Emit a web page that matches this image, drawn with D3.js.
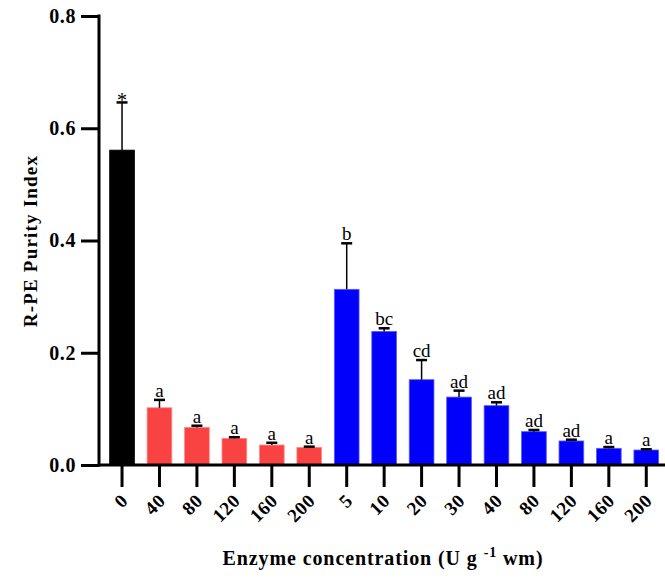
<!DOCTYPE html>
<html>
<head>
<meta charset="utf-8">
<script src="https://cdn.jsdelivr.net/npm/d3@7"></script>
<style>
  body { margin: 0; background: #fff; }
  svg { display: block; font-family: "Liberation Serif", "Times New Roman", serif; }
</style>
</head>
<body>
<svg width="665" height="583"></svg>
<script>
// data
var labels = ["0", "40", "80", "120", "160", "200", "5", "10", "20", "30", "40", "80", "120", "160", "200"];
var groups = ["ctrl", "red", "red", "red", "red", "red", "blue", "blue", "blue", "blue", "blue", "blue", "blue", "blue", "blue"];
var means = [0.561, 0.102, 0.067, 0.0475, 0.0356, 0.0315, 0.313, 0.238, 0.152, 0.121, 0.1057, 0.0594, 0.0428, 0.0297, 0.0267];
var errors = [0.085, 0.014, 0.003, 0.002, 0.004, 0.0012, 0.082, 0.0056, 0.035, 0.0115, 0.006, 0.003, 0.0023, 0.0023, 0.0013];
var letters = ["*", "a", "a", "a", "a", "a", "b", "bc", "cd", "ad", "ad", "ad", "ad", "a", "a"];
var yTicks = [0, 0.2, 0.4, 0.6, 0.8];

function main() {
	var svg = d3.select('svg');
	var idx = d3.range(labels.length);
	var serif = '"Liberation Serif", "Times New Roman", serif';

	var fill = d3.scaleOrdinal().domain(['ctrl', 'red', 'blue']).range(['#000000', '#f94242', '#0000fb']);
	var edge = d3.scaleOrdinal().domain(['ctrl', 'red', 'blue']).range(['#000000', '#ff8a8a', '#5a5aff']);

	var x = d3.scaleBand().domain(idx).range([103.3, 665]).paddingInner(0.34).paddingOuter(0.17);
	var y = d3.scaleLinear().domain([0, 0.8]).range([465, 16]);
	var axisX = 99;

	// bars
	svg.append('g').selectAll('rect')
		.data(idx)
		.enter().append('rect')
		.attr('x', function(i){ return x(i); })
		.attr('y', function(i){ return y(means[i]); })
		.attr('width', x.bandwidth())
		.attr('height', function(i){ return y(0) - y(means[i]); })
		.attr('fill', function(i){ return fill(groups[i]); })
		.attr('stroke', function(i){ return edge(groups[i]); })
		.attr('stroke-width', 0.8);

	// error bars (upper only)
	var eb = svg.append('g').selectAll('g')
		.data(idx)
		.enter().append('g');
	eb.append('line')
		.attr('x1', function(i){ return x(i) + x.bandwidth() / 2; })
		.attr('x2', function(i){ return x(i) + x.bandwidth() / 2; })
		.attr('y1', function(i){ return y(means[i]); })
		.attr('y2', function(i){ return y(means[i] + errors[i]); })
		.attr('stroke', '#000').attr('stroke-width', 1.5);
	eb.append('line')
		.attr('x1', function(i){ return x(i) + x.bandwidth() / 2 - 5.5; })
		.attr('x2', function(i){ return x(i) + x.bandwidth() / 2 + 5.5; })
		.attr('y1', function(i){ return y(means[i] + errors[i]); })
		.attr('y2', function(i){ return y(means[i] + errors[i]); })
		.attr('stroke', '#000').attr('stroke-width', 2.5);

	// significance letters
	svg.append('g').selectAll('text')
		.data(idx)
		.enter().append('text')
		.attr('x', function(i){ return x(i) + x.bandwidth() / 2; })
		.attr('y', function(i){ return y(means[i] + errors[i]) + (letters[i] == '*' ? 4.5 : -3); })
		.attr('text-anchor', 'middle')
		.attr('font-size', function(i){ return letters[i] == '*' ? 20 : 19; })
		.text(function(i){ return letters[i]; });

	// y axis
	var gy = svg.append('g')
		.attr('transform', 'translate(' + axisX + ',0)')
		.call(d3.axisLeft(y).tickValues(yTicks).tickSize(18).tickPadding(5).tickFormat(d3.format('.1f')));
	gy.select('.domain').attr('d', 'M0,' + y(0.8) + 'V' + y(0)).attr('stroke-width', 3).attr('stroke-linecap', 'square');
	gy.selectAll('.tick line').attr('stroke-width', 3);
	gy.selectAll('.tick text')
		.attr('font-size', 20).attr('font-weight', 'bold').attr('letter-spacing', 0.6)
		.attr('font-family', serif).attr('fill', '#000');

	// x axis
	var gx = svg.append('g')
		.attr('transform', 'translate(0,' + y(0) + ')')
		.call(d3.axisBottom(x).tickSize(22).tickFormat(function(i){ return labels[i]; }));
	gx.select('.domain').attr('d', 'M' + axisX + ',0H665').attr('stroke-width', 3);
	gx.selectAll('.tick line').attr('stroke-width', 3);
	gx.selectAll('.tick text')
		.attr('y', 0).attr('dy', 0)
		.attr('transform', 'translate(7,37) rotate(-45)')
		.attr('text-anchor', 'end')
		.attr('font-size', 19).attr('font-weight', 'bold').attr('letter-spacing', 0.5)
		.attr('font-family', serif).attr('fill', '#000');

	// axis titles
	svg.append('text')
		.attr('transform', 'translate(37,241) rotate(-90)')
		.attr('text-anchor', 'middle')
		.attr('font-size', 19).attr('font-weight', 'bold').attr('letter-spacing', 1.2)
		.text('R-PE Purity Index');

	var xt = svg.append('text')
		.attr('x', 383).attr('y', 565)
		.attr('text-anchor', 'middle')
		.attr('font-size', 20).attr('font-weight', 'bold').attr('letter-spacing', 0.9);
	xt.append('tspan').text('Enzyme concentration (U g ');
	xt.append('tspan').attr('font-size', 14).attr('dy', -8).text('-1');
	xt.append('tspan').attr('dy', 8).text(' wm)');
}
main();
</script>
</body>
</html>
